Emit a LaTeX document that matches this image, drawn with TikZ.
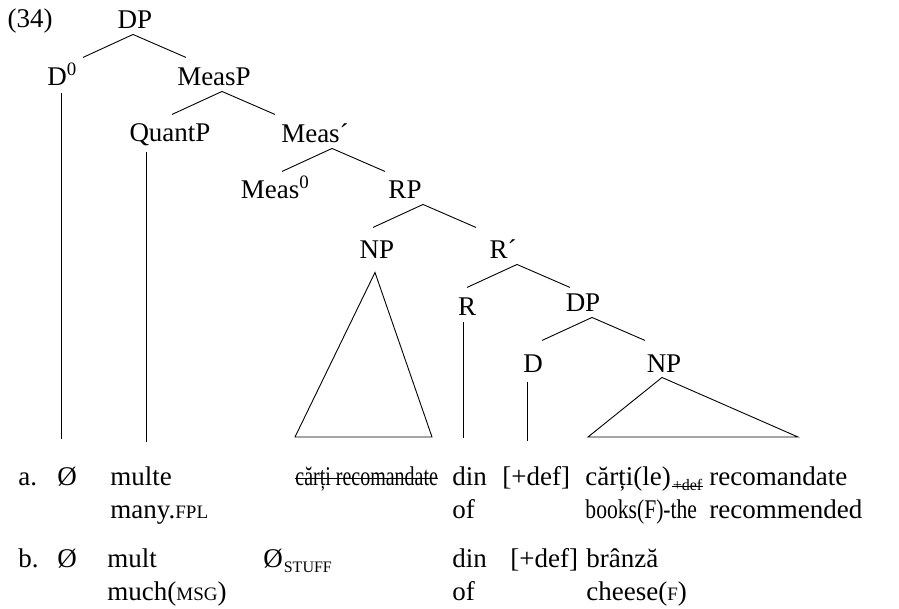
\documentclass[tikz,border=0pt]{standalone}
\usepackage{fontspec}
\setmainfont{Liberation Serif}
\newfontfamily\narrowrm{Liberation Serif}[FakeStretch=0.74]
\newfontfamily\tightrm{Liberation Serif}[FakeStretch=0.8]
\usetikzlibrary{calc}

% small caps by hand (the font has none)
\newcommand\smc[1]{{\fontsize{19}{22}\selectfont\MakeUppercase{#1}}}

\begin{document}
\begin{tikzpicture}[x=1pt,y=-1pt,line width=0.9pt,font=\fontsize{27}{32}\selectfont]
\tikzset{
    cat/.style={
       inner sep = 0pt,
       anchor = base,
       text depth = 6pt
    },
    word/.style={
       inner sep = 0pt,
       anchor = base west
    },
    sub/.style={
       word,
       font = \fontsize{16}{18}\selectfont
    }
}
%
\useasboundingbox (0,0) rectangle (899,608);
\coordinate (base) at (0,437);

% the tree
\node[cat] (ex)     at (30,27)   {(34)};
\node[cat] (DP)     at (135,28)  {DP};
\node[cat] (D0)     at (62,85)   {D\textsuperscript{0}};
\node[cat] (MeasP)  at (214,85)  {MeasP};
\node[cat] (QuantP) at (170,141) {QuantP};
\node[cat] (Measb)  at (315,142) {Meas´};
\node[cat] (Meas0)  at (275,198) {Meas\textsuperscript{0}};
\node[cat] (RP)     at (405,198) {RP};
\node[cat] (NPa)    at (377,258) {NP};
\node[cat] (Rb)     at (503,258) {R´};
\node[cat] (R)      at (467,315) {R};
\node[cat] (DPb)    at (583,311) {DP};
\node[cat] (D)      at (533,372) {D};
\node[cat] (NPb)    at (664,372) {NP};

\foreach \p/\s in {DP/-2, MeasP/8, Measb/17, RP/18, Rb/14, DPb/9}
  \draw ([shift={(\s-50,23)}]\p.south) -- ([xshift=\s]\p.south)
        -- ([shift={(\s+53,23)}]\p.south);

\foreach \p/\s/\t in {D0/-1/2, QuantP/-24/5, R/-4/1, D/-6/4}
  \draw ([shift={(\s,\t)}]\p.south) -- ([shift={(\s,\t)}]\p.south |- base);

\draw ([shift={(-2,8)}]NPa.south) -- (295,437) -- (432,437) -- cycle;
\draw ([shift={(-2,-1)}]NPb.south) -- (588,437) -- (798,437) -- cycle;

% example a.
\node[word] (a)   at (18,485)  {a.};
\node[word] (a0)  at (57,485)  {Ø};
\node[word] (a1)  at (110,485) {multe};
\node[word] (a2)  at (295,485) {\narrowrm cărți recomandate};
\node[word] (a3)  at (452,485) {din};
\node[word] (a4)  at (502,485) {[+def]};
\node[word] (a5)  at (585,485) {cărți(le)};
\node[sub]  (a5s) at ([shift={(1,5)}]a5.base east) {+def};
\node[word] (a6)  at (709,485) {recomandate};
\node[word] (ag1) at (110,518) {many.\smc{fpl}};
\node[word] (ag3) at (452,518) {of};
\node[word] (ag5) at (585,518) {\tightrm books(F)-the};
\node[word] (ag6) at (709,518) {recommended};

% struck out
\draw ([shift={(0,-7)}]a2.base west) -- ([shift={(0,-7)}]a2.base east);
\draw ([shift={(0,-4)}]a5s.base west) -- ([shift={(0,-4)}]a5s.base east);

% example b.
\node[word] (b)   at (18,567)  {b.};
\node[word] (b0)  at (57,567)  {Ø};
\node[word] (b1)  at (107,567) {mult};
\node[word] (b2)  at (263,567) {Ø};
\node[sub]  (b2s) at ([shift={(0,5)}]b2.base east) {STUFF};
\node[word] (b3)  at (452,567) {din};
\node[word] (b4)  at (510,567) {[+def]};
\node[word] (b5)  at (586,567) {brânză};
\node[word] (bg1) at (107,600) {much(\smc{msg})};
\node[word] (bg3) at (452,600) {of};
\node[word] (bg5) at (586,600) {cheese(\smc{f})};
\end{tikzpicture}
\end{document}
